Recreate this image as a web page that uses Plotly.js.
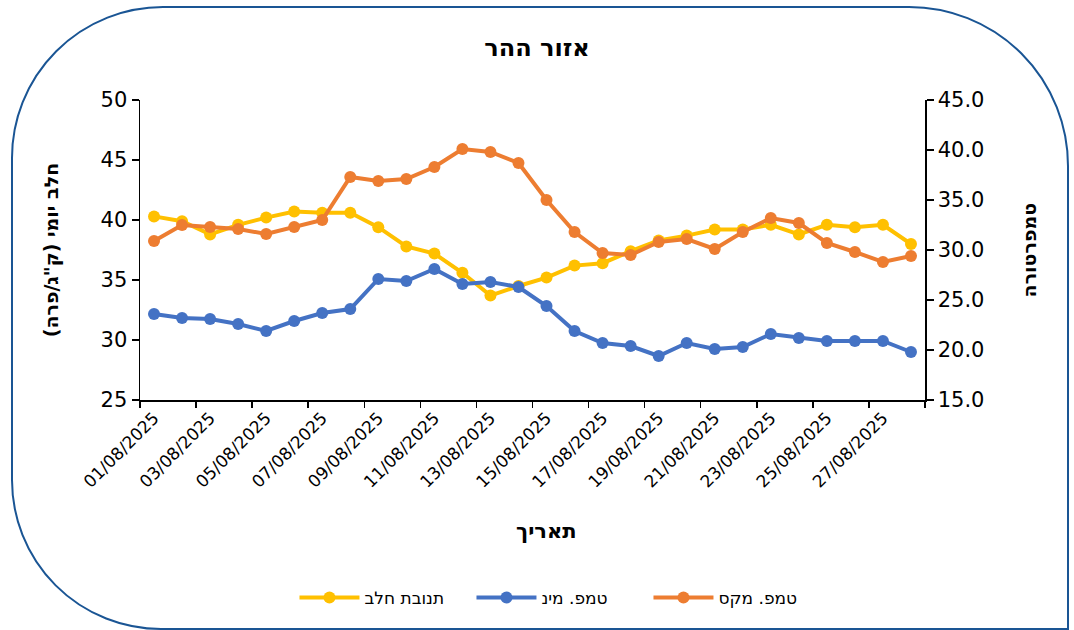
<!DOCTYPE html>
<html>
<head>
<meta charset="utf-8">
<script src="https://cdn.plot.ly/plotly-3.0.1.min.js"></script>
<style>
  html, body { margin: 0; padding: 0; background: #ffffff; }
  #wrap { position: relative; width: 1074px; height: 630px; overflow: hidden; }
  #frame { position: absolute; left: 11px; top: 6px; width: 1058px; height: 624px;
           border: 2.5px solid #1a5594; border-radius: 152px 160px 0 150px; box-sizing: border-box; }
  #chart { position: absolute; left: 0; top: 0; width: 1074px; height: 630px; }
</style>
</head>
<body>
<div id="wrap">
  <div id="frame"></div>
  <div id="chart"></div>
</div>
<script>
const dates = ["01/08/2025","02/08/2025","03/08/2025","04/08/2025","05/08/2025","06/08/2025","07/08/2025",
  "08/08/2025","09/08/2025","10/08/2025","11/08/2025","12/08/2025","13/08/2025","14/08/2025",
  "15/08/2025","16/08/2025","17/08/2025","18/08/2025","19/08/2025","20/08/2025","21/08/2025",
  "22/08/2025","23/08/2025","24/08/2025","25/08/2025","26/08/2025","27/08/2025","28/08/2025"];
const milkYield = [40.3,39.9,38.8,39.6,40.2,40.7,40.6,40.6,39.4,37.8,37.2,35.6,33.7,34.5,
  35.2,36.2,36.4,37.4,38.3,38.7,39.2,39.2,39.6,38.8,39.6,39.4,39.6,38.0];
const tempMin = [23.6,23.2,23.1,22.6,21.9,22.9,23.7,24.1,27.1,26.9,28.1,26.6,26.8,26.3,
  24.4,21.9,20.7,20.4,19.4,20.7,20.1,20.3,21.6,21.2,20.9,20.9,20.9,19.8];
const tempMax = [30.9,32.5,32.3,32.1,31.6,32.3,33.0,37.3,36.9,37.1,38.3,40.1,39.8,38.7,
  35.0,31.8,29.7,29.5,30.8,31.1,30.1,31.8,33.2,32.7,30.7,29.8,28.8,29.4];
const leftTicks = [25,30,35,40,45,50];
const rightTicks = [15,20,25,30,35,40,45];
const seriesNames = ["תנובת חלב","טמפ. מינ","טמפ. מקס"];
const colors = ["#FFC000","#4472C4","#ED7D31"];

const idx = dates.map((d,i)=>i);
const labelIdx = idx.filter(i => i % 2 === 0 && i < 27);
const boundaries = [];
for (let b = -0.5; b <= dates.length - 0.5; b += 2) boundaries.push(b);

const font = "DejaVu Sans, Liberation Sans, sans-serif";

function tr(y, name, color, axis) {
  return { x: idx, y: y, name: name, yaxis: axis, type: "scatter", mode: "lines+markers",
    line: { color: color, width: 4 }, marker: { color: color, size: 12 },
    hoverinfo: "skip" };
}
const data = [
  tr(milkYield, seriesNames[0], colors[0], "y"),
  tr(tempMin, seriesNames[1], colors[1], "y2"),
  tr(tempMax, seriesNames[2], colors[2], "y2")
];

const layout = {
  width: 1074, height: 630,
  paper_bgcolor: "rgba(0,0,0,0)", plot_bgcolor: "rgba(0,0,0,0)",
  margin: { l: 140, r: 149, t: 100, b: 230 },
  font: { family: font, color: "#000" },
  showlegend: true,
  title: { text: "<b>אזור ההר</b>", x: 0.5, xanchor: "center", y: 0.924, yanchor: "middle",
           font: { size: 24, family: font, color: "#000" } },
  xaxis: {
    range: [-0.5, dates.length - 0.5], showgrid: false, zeroline: false, automargin: false,
    showline: true, linecolor: "#000", linewidth: 1.5,
    tickmode: "array", tickvals: labelIdx, ticktext: labelIdx.map(i => dates[i]),
    ticks: "", tickangle: -45, tickfont: { size: 17, family: font, color: "#000" },
    minor: { tickmode: "array", tickvals: boundaries, ticks: "outside", ticklen: 6, tickwidth: 1.5, tickcolor: "#000", showgrid: false },
    fixedrange: true
  },
  yaxis: {
    range: [25, 50], tickmode: "array", tickvals: leftTicks, showgrid: false, zeroline: false, automargin: false,
    showline: true, linecolor: "#000", linewidth: 1.5,
    ticks: "outside", ticklen: 7, tickwidth: 1.5, tickcolor: "#000",
    tickfont: { size: 21, family: font, color: "#000" }, fixedrange: true
  },
  yaxis2: {
    range: [15, 45], overlaying: "y", side: "right", tickmode: "array", tickvals: rightTicks,
    tickformat: ".1f", showgrid: false, zeroline: false, automargin: false,
    showline: true, linecolor: "#000", linewidth: 1.5,
    ticks: "outside", ticklen: 7, tickwidth: 1.5, tickcolor: "#000",
    tickfont: { size: 21, family: font, color: "#000" }, fixedrange: true
  },
  legend: { orientation: "h", x: 0.535, xanchor: "center", y: -0.66, yanchor: "middle",
            font: { size: 17, family: font, color: "#000" }, itemwidth: 60, traceorder: "normal",
            entrywidth: 102, entrywidthmode: "pixels" },
  annotations: [
    { text: "<b>תאריך</b>", xref: "paper", yref: "paper", x: 0.518, y: -0.435, showarrow: false,
      xanchor: "center", yanchor: "middle", font: { size: 21, family: font, color: "#000" } },
    { text: "<b>חלב יומי (ק\"ג/פרה)</b>", xref: "paper", yref: "paper", x: -0.113, y: 0.5, textangle: -90,
      showarrow: false, xanchor: "center", yanchor: "middle", font: { size: 19, family: font, color: "#000" } },
    { text: "<b>טמפרטורה</b>", xref: "paper", yref: "paper", x: 1.133, y: 0.5, textangle: -90,
      showarrow: false, xanchor: "center", yanchor: "middle", font: { size: 19, family: font, color: "#000" } }
  ]
};

Plotly.newPlot("chart", data, layout, { displayModeBar: false, staticPlot: true });
</script>
</body>
</html>
